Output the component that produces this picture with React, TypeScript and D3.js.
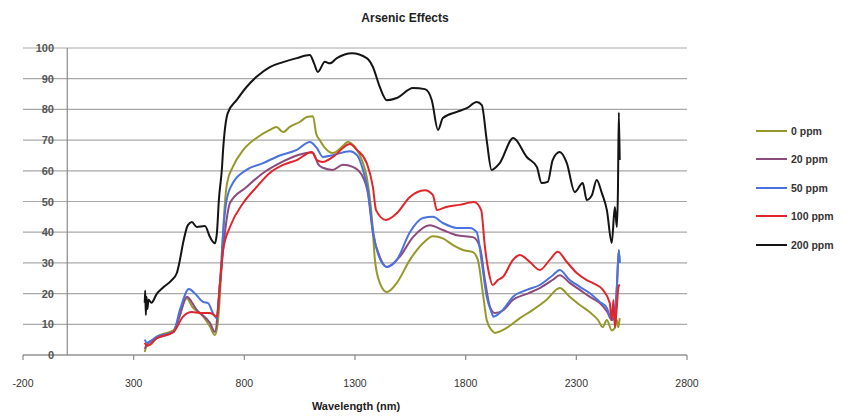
import React from "react";
import * as d3 from "d3";

const xTicks = [-200, 300, 800, 1300, 1800, 2300, 2800];
const yTicks = [0, 10, 20, 30, 40, 50, 60, 70, 80, 90, 100];
const seriesNames = ["0 ppm", "20 ppm", "50 ppm", "100 ppm", "200 ppm"];
const seriesColors = ["#96992a", "#8d4a7c", "#4a72df", "#e0262b", "#141414"];

const ppm0: [number, number][] = [[350,1],[360,3],[380,3.5],[405,6],[440,7],[480,8],[505,12.5],[540,18.5],[565,15.7],[615,12.5],[645,9.2],[667,6.5],[680,10.4],[697,28.7],[708,45],[722,56],[748,61.3],[795,66.8],[855,70.7],[915,73.3],[945,74.3],[975,72.6],[1005,74.3],[1050,75.9],[1083,77.5],[1110,77.8],[1125,72],[1141,70],[1165,67.4],[1200,65.8],[1240,67.7],[1268,69.4],[1300,67.7],[1331,63.5],[1353,58],[1377,44],[1390,31],[1412,23.5],[1444,20.5],[1489,23.5],[1548,31],[1607,36.4],[1652,38.7],[1697,38],[1743,35.8],[1788,34.2],[1833,33.5],[1855,31],[1878,20],[1895,11.4],[1918,8],[1932,7.2],[1985,8.8],[2045,12],[2104,14.7],[2166,18],[2225,21.8],[2270,19],[2316,16.3],[2360,14],[2398,11.4],[2419,9.1],[2438,11.4],[2460,8],[2474,8.8],[2483,11.4],[2490,9],[2496,12]];
const ppm20: [number, number][] = [[350,2],[360,3.5],[405,5.5],[480,7.5],[505,12],[540,19],[585,14.7],[645,10.4],[667,7.5],[690,23.4],[712,39.7],[735,49.5],[810,54.7],[885,59.3],[960,62.5],[1037,65],[1096,66],[1110,65.8],[1135,62],[1155,61],[1200,60.3],[1245,62],[1290,61.3],[1331,58.6],[1358,52.8],[1381,39.7],[1412,32],[1444,28.7],[1502,32],[1562,38.4],[1638,42.3],[1697,40.7],[1760,39],[1833,38.4],[1865,35],[1887,24.4],[1910,15.7],[1932,13.7],[1968,14.5],[2014,18],[2080,20],[2135,21.8],[2194,24.5],[2225,26],[2270,23.5],[2316,21.2],[2360,19],[2406,16.9],[2440,14],[2460,11.4],[2474,12.5],[2483,22],[2492,34],[2496,30]];
const ppm50: [number, number][] = [[350,5],[360,4],[405,6],[480,7.5],[509,14.7],[550,21.5],[577,20],[613,17.3],[636,16.9],[658,13.7],[676,12],[690,23.4],[704,39.7],[720,50.5],[748,56],[810,60.3],[885,62.5],[960,65],[1037,66.8],[1096,69.4],[1128,67.4],[1155,64.5],[1200,65.1],[1277,66.4],[1309,65.1],[1336,60.3],[1358,53.7],[1381,40.7],[1403,33.2],[1444,28.7],[1489,31],[1548,40],[1607,44.6],[1652,45],[1697,43],[1760,41.4],[1819,41.4],[1850,40],[1873,30],[1895,19],[1918,13.7],[1925,12.5],[1968,14.7],[2014,19],[2076,21.2],[2135,22.8],[2194,26],[2225,27.7],[2270,24.4],[2316,22.2],[2360,20.2],[2406,17.3],[2438,15.3],[2460,11.4],[2474,12.5],[2483,22],[2492,34.2],[2496,30]];
const ppm100: [number, number][] = [[350,4],[360,3],[405,5.5],[480,7.5],[523,12.5],[563,14],[600,13.7],[645,13.7],[676,12.5],[690,23.4],[704,34.2],[735,41.7],[795,49.5],[855,54.7],[915,59.3],[975,61.9],[1037,63.5],[1105,66.1],[1128,63.5],[1155,62.9],[1200,64.5],[1277,68.7],[1309,66.8],[1353,62.5],[1381,54.7],[1395,47.2],[1440,44],[1489,46.2],[1548,51.5],[1616,53.7],[1652,52.1],[1670,47.2],[1712,48.2],[1772,48.9],[1838,49.8],[1870,47.2],[1887,35.2],[1905,26.7],[1922,22.8],[1945,24.4],[1968,25.4],[2014,31],[2045,32.6],[2090,30.3],[2135,27.7],[2180,31],[2216,33.6],[2257,30.3],[2302,26.7],[2347,24.4],[2375,23.4],[2420,21.2],[2451,16.9],[2460,11.4],[2468,18],[2474,9],[2483,15.7],[2490,22],[2496,23]];
const ppm200: [number, number][] = [[350,17],[352,21],[355,13],[358,19],[362,15],[367,18],[380,17],[405,20],[433,22],[472,24.4],[495,26.7],[509,31],[523,36.4],[545,42.3],[563,43.3],[585,41.7],[622,42],[645,38.4],[667,36.4],[676,39.7],[685,50.5],[699,61],[704,66.8],[710,72],[725,78.8],[765,83],[810,87.3],[855,90.6],[915,93.8],[975,95.4],[1037,96.7],[1096,97.7],[1115,95],[1132,92.2],[1164,95.5],[1186,95],[1218,96.7],[1286,98.3],[1353,96.7],[1381,93.8],[1412,87.3],[1444,83],[1489,83.7],[1562,87],[1616,86.6],[1647,83],[1675,73.3],[1697,77.2],[1760,79.2],[1805,80.4],[1850,82.4],[1873,81.4],[1895,70],[1917,60.3],[1954,62.5],[2015,70.7],[2076,64.5],[2122,61.2],[2143,56],[2171,56.4],[2193,63.5],[2225,66.1],[2257,62.5],[2293,53.1],[2329,56],[2347,50.5],[2370,52],[2392,57],[2415,52.8],[2438,47.2],[2460,36.5],[2474,48.2],[2483,41.7],[2488,53.7],[2492,79],[2496,63.5]];

const allSeries = [ppm0, ppm20, ppm50, ppm100, ppm200];

export default function App() {
  const W = 846, H = 417;
  const x = d3.scaleLinear().domain([-200, 2800]).range([23, 687]);
  const y = d3.scaleLinear().domain([0, 100]).range([355, 48]);
  const line = d3.line<[number, number]>().x(d => x(d[0])).y(d => y(d[1])).curve(d3.curveMonotoneX);
  const font = "'Liberation Sans', Arial, sans-serif";
  const legendY = [131, 159, 188, 216, 245];
  return (
    <svg width={W} height={H} style={{ position: "absolute", left: 0, top: 0, background: "#fff" }} fontFamily={font}>
      <rect width={W} height={H} fill="#fff" />
      <text x={405} y={22} textAnchor="middle" fontSize={12} fontWeight="bold" fill="#222">Arsenic Effects</text>
      {yTicks.map(t => (
        <line key={"g" + t} x1={x(-200)} x2={x(2800)} y1={y(t)} y2={y(t)} stroke="#a8a8a8" strokeWidth={1.2} />
      ))}
      <line x1={x(0)} x2={x(0)} y1={y(100)} y2={y(0)} stroke="#8a8a8a" strokeWidth={1.2} />
      <line x1={x(-200)} x2={x(2800)} y1={y(0)} y2={y(0)} stroke="#8a8a8a" strokeWidth={1.2} />
      {xTicks.map(t => (
        <g key={"x" + t}>
          <line x1={x(t)} x2={x(t)} y1={y(0)} y2={y(0) + 5} stroke="#8a8a8a" strokeWidth={1.2} />
          <text x={x(t)} y={387} textAnchor="middle" fontSize={10.5} fill="#333">{t}</text>
        </g>
      ))}
      {yTicks.map(t => (
        <text key={"yl" + t} x={54} y={y(t) + 4} textAnchor="end" fontSize={11} fontWeight="bold" fill="#555">{t}</text>
      ))}
      <text x={356} y={410} textAnchor="middle" fontSize={11} fontWeight="bold" fill="#222">Wavelength (nm)</text>
      {allSeries.map((s, i) => (
        <path key={"s" + i} d={line(s) || ""} fill="none" stroke={seriesColors[i]} strokeWidth={2} strokeLinejoin="round" />
      ))}
      {seriesNames.map((n, i) => (
        <g key={"lg" + i}>
          <line x1={756} x2={787} y1={legendY[i]} y2={legendY[i]} stroke={seriesColors[i]} strokeWidth={2} />
          <text x={791} y={legendY[i] + 4} fontSize={10.5} fontWeight="bold" fill="#333">{n}</text>
        </g>
      ))}
    </svg>
  );
}
